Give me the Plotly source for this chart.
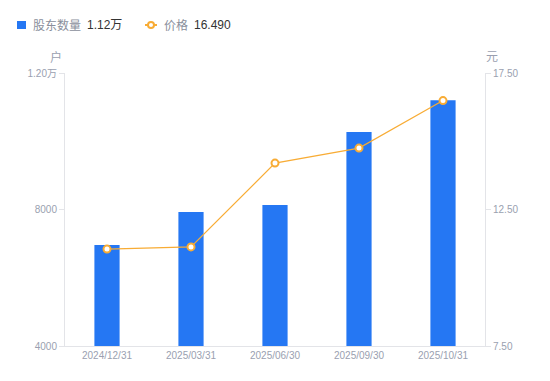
import plotly.graph_objects as go

categories = ["2024/12/31", "2025/03/31", "2025/06/30", "2025/09/30", "2025/10/31"]
holders = [6960, 7930, 8130, 10270, 11200]
prices = [11.05, 11.13, 14.20, 14.75, 16.49]

left_tickvals = [4000, 8000, 12000]
left_ticktext = ["4000", "8000", "1.20万"]
right_tickvals = [7.5, 12.5, 17.5]
right_ticktext = ["7.50", "12.50", "17.50"]

BAR = "#2577f3"
LINE = "#f8ac35"
GRAY = "#9a9fb0"
LEG_GRAY = "#8a8f9c"
DARK = "#333333"
AXIS = "#e3e4e8"
FONT = "Liberation Sans, Noto Sans CJK SC, sans-serif"

last_h = f"{holders[-1]/10000:.2f}万"
last_p = f"{prices[-1]:.3f}"

# plot area: left edge 65px, top edge 73px
L, T = 65, 73


def ann(text, px, py, color, size=12):
    return dict(text=text, xref="paper", yref="paper", x=0, y=1, xanchor="left",
                yanchor="middle", xshift=px - L, yshift=T - py, showarrow=False,
                font=dict(size=size, color=color))


fig = go.Figure()
fig.add_trace(go.Bar(
    x=categories, y=holders, marker=dict(color=BAR, line=dict(width=0)),
    width=0.3, name="股东数量", yaxis="y", showlegend=False,
))
fig.add_trace(go.Scatter(
    x=categories, y=prices, mode="lines+markers",
    line=dict(color=LINE, width=1.2),
    marker=dict(symbol="circle", size=7, color="white", line=dict(color=LINE, width=2)),
    name="价格", yaxis="y2", showlegend=False,
))

shapes = [
    dict(type="rect", xref="paper", yref="paper", xsizemode="pixel", ysizemode="pixel",
         xanchor=0, yanchor=1, x0=17 - L, x1=26 - L, y0=T - 29, y1=T - 21,
         fillcolor=BAR, line=dict(width=0)),
    dict(type="line", xref="paper", yref="paper", xsizemode="pixel", ysizemode="pixel",
         xanchor=0, yanchor=1, x0=145 - L, x1=157 - L, y0=T - 25, y1=T - 25,
         line=dict(color=LINE, width=2)),
    dict(type="circle", xref="paper", yref="paper", xsizemode="pixel", ysizemode="pixel",
         xanchor=0, yanchor=1, x0=148 - L, x1=154 - L, y0=T - 28, y1=T - 22,
         fillcolor="white", line=dict(color=LINE, width=2)),
]

annotations = [
    ann("股东数量", 31, 25, LEG_GRAY),
    ann(last_h, 85, 25, DARK),
    ann("价格", 162, 25, LEG_GRAY),
    ann(last_p, 192, 25, DARK),
    dict(text="户", xref="paper", yref="paper", x=0, y=1, xanchor="right", yanchor="middle",
         xshift=-1, yshift=T - 57, showarrow=False, font=dict(size=12, color=GRAY)),
    dict(text="元", xref="paper", yref="paper", x=1, y=1, xanchor="left", yanchor="middle",
         xshift=-1, yshift=T - 57, showarrow=False, font=dict(size=12, color=GRAY)),
]

fig.update_layout(
    width=550, height=381,
    margin=dict(l=65, r=65, t=73, b=35, autoexpand=False),
    paper_bgcolor="white", plot_bgcolor="white",
    font=dict(family=FONT, size=11, color=GRAY),
    showlegend=False,
    bargap=0.7,
    xaxis=dict(type="category", showgrid=False, showline=True, linecolor=AXIS, linewidth=1,
               ticks="", tickfont=dict(size=10, color=GRAY), range=[-0.5, 4.5],
               automargin=False),
    yaxis=dict(range=[4000, 12000], tickvals=left_tickvals, ticktext=left_ticktext,
               showgrid=False, showline=True, linecolor=AXIS, linewidth=1,
               ticks="outside", ticklen=5, tickcolor=AXIS, automargin=False,
               tickfont=dict(size=10, color=GRAY), zeroline=False),
    yaxis2=dict(range=[7.5, 17.5], tickvals=right_tickvals, ticktext=right_ticktext,
                overlaying="y", side="right", showgrid=False, showline=True,
                linecolor=AXIS, linewidth=1, ticks="outside", ticklen=5, tickcolor=AXIS,
                automargin=False, tickfont=dict(size=10, color=GRAY), zeroline=False),
    shapes=shapes,
    annotations=annotations,
)

fig.write_html("out.html", config={"displayModeBar": False},
               post_script="document.body.style.margin='0';document.body.style.overflow='hidden';")
